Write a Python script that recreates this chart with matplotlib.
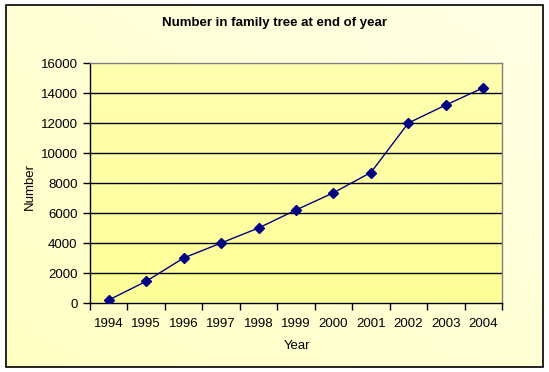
import numpy as np
import matplotlib.pyplot as plt
from matplotlib.patches import Rectangle
from matplotlib.colors import LinearSegmentedColormap

years = ["1994", "1995", "1996", "1997", "1998", "1999", "2000", "2001", "2002", "2003", "2004"]
numbers = [200, 1450, 3000, 4000, 5000, 6200, 7350, 8700, 12000, 13200, 14350]
y_ticks = [0, 2000, 4000, 6000, 8000, 10000, 12000, 14000, 16000]

plt.rcParams['font.family'] = ['Liberation Sans', 'DejaVu Sans']

W, H = 549, 372
fig = plt.figure(figsize=(W / 100, H / 100), dpi=100)
fig.patch.set_facecolor("white")

# outer chart area: light yellow diagonal gradient inside a black frame
bg = fig.add_axes([0, 0, 1, 1], zorder=0)
bg.set_xlim(0, W)
bg.set_ylim(H, 0)
bg.axis("off")
gx, gy = np.meshgrid(np.linspace(0, 1, 200), np.linspace(0, 1, 200))
outer_cmap = LinearSegmentedColormap.from_list("outer", ["#FFFFC4", "#FFFFE6"])
bg.imshow((gx + (1 - gy)) / 2, cmap=outer_cmap, extent=[6, 543, 367, 5],
          aspect="auto", interpolation="bilinear")
bg.add_patch(Rectangle((6, 5), 537, 362, fill=False, edgecolor="black", lw=1.2))

# plot area
left, right, top, bottom = 90, 502, 63, 303
ax = fig.add_axes([left / W, 1 - bottom / H, (right - left) / W, (bottom - top) / H], zorder=1)
ax.set_facecolor("none")
pa_cmap = LinearSegmentedColormap.from_list("plotarea", ["#FFFF99", "#FFFFB0"])
ax.imshow(np.linspace(0, 1, 100).reshape(-1, 1), cmap=pa_cmap, extent=[-0.5, 10.5, 0, 16000],
          aspect="auto", origin="lower", interpolation="bilinear", zorder=0)

x = np.arange(len(years))
ax.plot(x, numbers, color="#000080", lw=1, marker="D", markersize=5,
        markerfacecolor="#000080", markeredgecolor="#000080", zorder=3)

ax.set_xlim(-0.5, len(years) - 0.5)
ax.set_ylim(0, 16000)
ax.set_yticks(y_ticks)
ax.set_yticklabels([str(v) for v in y_ticks], fontsize=9.5)
for v in y_ticks[1:-1]:
    ax.axhline(v, color="black", lw=1, zorder=1)

ax.set_xticks(np.arange(len(years) + 1) - 0.5)
ax.set_xticklabels([])
ax.set_xticks(x, minor=True)
ax.set_xticklabels(years, minor=True, fontsize=9.5)
ax.tick_params(axis="x", which="major", length=5, width=1, direction="out", color="black")
ax.tick_params(axis="x", which="minor", length=0, pad=11)
ax.tick_params(axis="y", length=5, width=1, direction="out", pad=4)

ax.spines["left"].set_color("black")
ax.spines["bottom"].set_color("black")
ax.spines["top"].set_color("#808080")
ax.spines["right"].set_color("#808080")
for s in ax.spines.values():
    s.set_linewidth(1)

fig.text(275 / W, 1 - 23 / H, "Number in family tree at end of year", ha="center", va="center",
         fontsize=9.5, fontweight="bold")
fig.text(297 / W, 1 - 346 / H, "Year", ha="center", va="center", fontsize=9.5)
fig.text(30 / W, 1 - 186 / H, "Number", ha="center", va="center", fontsize=9.5, rotation=90)

fig.savefig("out.png", dpi=100)
